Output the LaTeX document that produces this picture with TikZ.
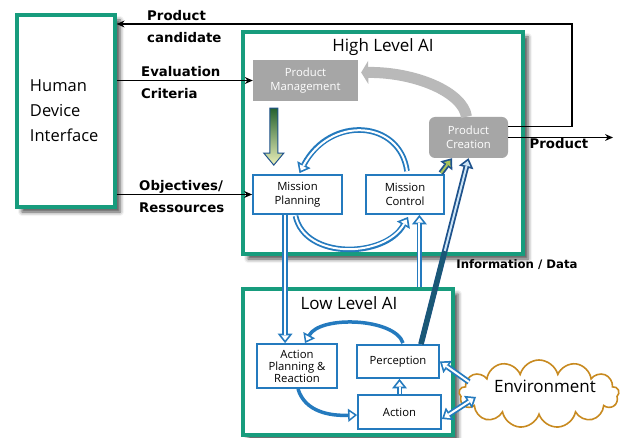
\documentclass[tikz,border=0pt]{standalone}
\usepackage{fontspec}
\setmainfont{Open Sans}
\newfontfamily\lblfont{DejaVu Sans}
\usetikzlibrary{arrows.meta,shapes.symbols,shadows.blur,calc}

\definecolor{frgreen}{RGB}{23,156,125}
\definecolor{boxblue}{RGB}{36,122,190}
\definecolor{pgray}{RGB}{166,166,166}
\definecolor{arcgray}{RGB}{185,185,185}
\definecolor{cloudbrown}{RGB}{200,138,32}
\definecolor{darkteal}{RGB}{26,88,118}
\definecolor{navyblue}{RGB}{30,82,140}
\definecolor{arrowtop}{RGB}{38,98,48}
\definecolor{arrowbot}{RGB}{235,240,185}
\definecolor{greenfill}{RGB}{170,195,90}
\definecolor{lightfill}{RGB}{205,228,245}

\tikzset{
  container/.style={draw=frgreen, line width=3.2pt, fill=white,
    blur shadow={shadow xshift=5pt, shadow yshift=-5pt, shadow blur radius=4pt, shadow opacity=70}},
  unitbox/.style={draw=boxblue, line width=1.8pt, fill=white, align=center,
    font=\fontsize{11.3}{13.5}\selectfont, inner sep=0pt},
  graybox/.style={fill=pgray, text=white, align=center,
    font=\fontsize{11.3}{14.5}\selectfont, inner sep=0pt},
  flowlabel/.style={font=\lblfont\bfseries\fontsize{13.3}{22}\selectfont,
    align=left, anchor=west, inner sep=0pt},
  boxtitle/.style={font=\fontsize{17}{20}\selectfont, inner sep=0pt},
  blackarrow/.style={draw=black, line width=1.9pt,
    -{Stealth[length=8pt,width=7pt,line width=0pt]}},
  hollowarrow/.style 2 args={draw=#1, line width=5.6pt,
    -{Triangle[length=9.5pt,width=15pt,line width=0pt]},
    postaction={draw=#2, line width=2pt, shorten >=2.8pt,
      -{Triangle[length=5pt,width=8pt,line width=0pt]}}},
  hollowboth/.style 2 args={draw=#1, line width=5.6pt,
    {Triangle[length=9.5pt,width=15pt,line width=0pt]}-{Triangle[length=9.5pt,width=15pt,line width=0pt]},
    postaction={draw=#2, line width=2pt, shorten >=2.8pt, shorten <=2.8pt,
      {Triangle[length=5pt,width=8pt,line width=0pt]}-{Triangle[length=5pt,width=8pt,line width=0pt]}}},
  looparrow/.style={draw=boxblue, line width=3.5pt,
    -{Triangle[length=9pt,width=13pt,line width=1.5pt,fill=white]}},
}

\begin{document}
\begin{tikzpicture}[x=1pt,y=-1pt]
\useasboundingbox (0,0) rectangle (627,438);

% outer frames
\node[container, minimum width=98pt, minimum height=192pt, text width=72pt,
  align=left, font=\fontsize{16.5}{25}\selectfont] (hdi) at (66,111) {Human\\Device\\Interface};
\node[container, minimum width=280pt, minimum height=222pt] (hl) at (383,143) {};
\node[boxtitle] (hltitle) at (383,47) {High Level AI};
\node[container, minimum width=210pt, minimum height=146pt] (ll) at (348,362) {};
\node[boxtitle] (lltitle) at (349,303) {Low Level AI};

% environment
\node[cloud, cloud puffs=13, aspect=2.3, draw=cloudbrown, line width=1.6pt, fill=white,
  minimum width=160pt, minimum height=68pt, inner sep=0pt] (env) at (539,394) {};
\node[font=\fontsize{17}{20}\selectfont, inner sep=0pt] (envtext) at (545,386) {Environment};

% high level units
\node[graybox, minimum width=105pt, minimum height=41pt] (pm) at (305.5,80.5) {Product\\Management};
\node[graybox, rounded corners=6pt, minimum width=79pt, minimum height=41pt] (pc) at (468.5,137.5) {Product\\Creation};
\node[unitbox, minimum width=89pt, minimum height=39pt] (mp) at (297.5,194.5) {Mission\\Planning};
\node[unitbox, minimum width=78pt, minimum height=39pt] (mc) at (405,194.5) {Mission\\Control};

% low level units
\node[unitbox, minimum width=80pt, minimum height=44pt, font=\fontsize{11.3}{12}\selectfont] (ap) at (297,366) {Action\\Planning \&\\Reaction};
\node[unitbox, minimum width=82pt, minimum height=33pt] (per) at (398,361.5) {Perception};
\node[unitbox, minimum width=83pt, minimum height=34pt] (act) at (399.5,412) {Action};

% flow labels
\node[flowlabel] (lblcand) at (147,27) {Product\\candidate};
\node[flowlabel] (lbleval) at (141,83) {Evaluation\\Criteria};
\node[flowlabel] (lblobj) at (139,197) {Objectives/\\Ressources};
\node[font=\lblfont\bfseries\fontsize{11.7}{14}\selectfont, inner sep=0pt] (lblinfo) at (517,265) {Information / Data};
\node[font=\lblfont\bfseries\fontsize{13.3}{16}\selectfont, inner sep=0pt] (lblprod) at (559,144) {Product};

% interface flows
\coordinate (loopcorner) at (572,24);
\coordinate (prodout) at (613,137.5);
\draw[blackarrow] ($(pc.east)+(0,-11)$) -| (loopcorner) -- (loopcorner -| hdi.east);
\draw[blackarrow] (pm.west -| hdi.east) -- (pm.west);
\draw[blackarrow] (mp.west -| hdi.east) -- (mp.west);
\draw[blackarrow] (pc.east) -- (prodout);

% product creation feeds product management
\draw[arcgray, line width=11pt, -{Triangle[length=7pt,width=23pt,line width=0pt]}]
  ($(pc.north)+(-2,0)$) .. controls (463,92) and (415,72) .. ($(pm.east)+(3,-8)$);

% product management to mission planning
\coordinate (g1) at ($(pm.south west)+(21,7)$);
\coordinate (g2) at ($(g1 |- mp.north)+(0,-9)$);
\shade[top color=arrowtop, bottom color=arrowbot, draw=navyblue, line width=1pt]
  ($(g1)+(-4,0)$) -- ($(g1)+(4,0)$) -- ($(g2)+(4,-12)$) -- ($(g2)+(10,-12)$) -- (g2)
  -- ($(g2)+(-10,-12)$) -- ($(g2)+(-4,-12)$) -- cycle;

% mission loop
\draw[hollowarrow={boxblue}{white}] ($(mc.north)+(2,-3)$) .. controls (400,120) and (330,115) .. ($(mp.north)+(2,-1)$);
\draw[hollowarrow={boxblue}{white}] ($(mp.south)+(-2,1)$) .. controls (305,260) and (385,258) .. ($(mc.south)+(3,2)$);

% between levels
\coordinate (mpdown) at ($(mp.south west)+(33,0)$);
\draw[hollowarrow={boxblue}{white}] (mpdown) -- (mpdown |- ap.north);
\coordinate (llup) at ($(ll.north west)+(178,0)$);
\draw[hollowarrow={boxblue}{white}] (llup) -- (llup |- mc.south);

% into product creation
\draw[hollowarrow={navyblue}{greenfill}] ($(mc.north east)+(-4,-1)$) -- ($(pc.south)+(-16.5,0)$);
\coordinate (perup) at ($(per.north)+(23,0)$);
\draw[hollowarrow={navyblue}{lightfill}] (perup) -- (pc.south);
\draw[darkteal, line width=4.8pt] (perup) -- ($(perup)!0.5!(pc.south)$);

% low level loop
\draw[looparrow] ($(per.north)+(5,-1)$) .. controls (395,318) and (320,315) .. ($(ap.north)+(8,0)$);
\draw[looparrow] ($(ap.south)+(1,0)$) .. controls (305,412) and (330,416) .. ($(act.west)+(0,3)$);
\draw[hollowarrow={boxblue}{white}] (act.north) -- (act.north |- per.south);

% environment exchange
\coordinate (envin) at (469,382);
\coordinate (envout) at (476,397);
\draw[hollowarrow={boxblue}{white}] (envin) -- (per.east);
\draw[hollowboth={boxblue}{white}] ($(act.east)+(0,7)$) -- (envout);
\end{tikzpicture}
\end{document}
